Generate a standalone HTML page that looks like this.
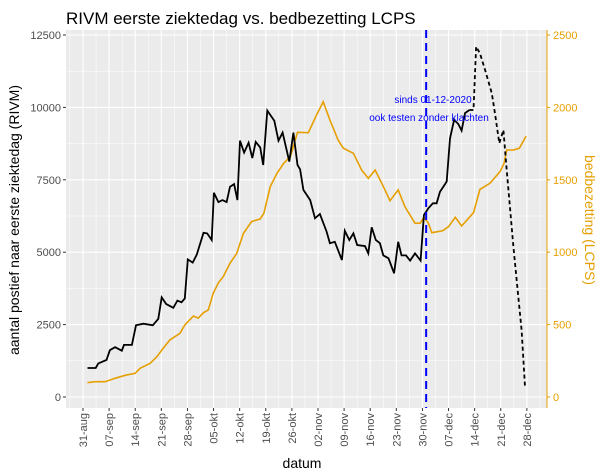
<!DOCTYPE html>
<html><head><meta charset="utf-8"><style>
body{margin:0;background:#fff;}
svg{display:block;font-family:"Liberation Sans",Arial,sans-serif;}
</style></head><body>
<svg id="chart" width="606" height="475" viewBox="0 0 606 475">
<text x="66" y="24" font-size="17" fill="#000">RIVM eerste ziektedag vs. bedbezetting LCPS</text>
<rect x="66" y="30" width="481" height="378" fill="#EBEBEB"/>
<g id="grid"></g>
<g id="series"></g>
<g id="axes"></g>
<text x="433" y="103" font-size="10" fill="#0000FF" text-anchor="middle">sinds 01-12-2020</text>
<text x="429" y="121" font-size="10" fill="#0000FF" text-anchor="middle">ook testen zonder klachten</text>
<text x="302" y="468" font-size="14" text-anchor="middle" fill="#000">datum</text>
<text transform="translate(19,220) rotate(-90)" font-size="14" text-anchor="middle" fill="#000">aantal postief naar eerste ziektedag (RIVM)</text>
<text transform="translate(585,220) rotate(90)" font-size="14" text-anchor="middle" fill="#E69F00">bedbezetting (LCPS)</text>
</svg>
<script>
// data (day offsets from 31-aug)
const rivmDays = [1.2,3.4,4.1,6.3,7.2,8.6,10.4,11.0,13.1,14.2,16.2,18.7,20.2,21.1,22.3,24.2,25.3,26.4,27.3,28.1,29.4,30.5,32.3,33.3,34.5,35.1,36.3,37.4,38.5,39.4,40.5,41.4,42.1,43.2,44.4,45.4,46.3,47.5,48.3,49.4,51.3,52.4,53.5,55.3,56.4,57.5,58.2,59.1,60.9,62.2,63.5,65.3,66.2,67.5,69.4,70.2,71.4,72.5,73.5,75.6,76.5,77.4,78.5,79.6,80.5,81.9,83.4,84.5,85.4,86.6,87.7,89.0,90.5,91.4,92.6,93.8,94.8,95.7,97.1,97.5,98.4,99.5,100.6,101.5,102.4,103.6];
const rivmValues = [1000,1000,1160,1280,1620,1720,1600,1800,1800,2475,2530,2475,2700,3440,3210,3080,3330,3270,3400,4750,4640,4920,5670,5650,5420,7050,6730,6800,6730,7260,7350,6800,8850,8440,8780,8250,8810,8620,8010,9890,9540,8850,9130,8130,9130,8010,7860,7150,6800,6170,6320,5710,5310,5360,4730,5740,5420,5650,5250,5210,4960,5860,5420,5310,4890,4790,4270,5360,4890,4890,4710,4960,4710,6280,6520,6690,6690,7090,7360,7440,8930,9570,9430,9200,9800,9910];
const rivmPrelimDays = [103.6,104.7,105.4,106.4,107.8,109.6,110.5,111.6,112.7,113.6,115.4,116.7,117.6,118.5];
const rivmPrelimValues = [9910,9910,12100,11870,11290,10490,9740,8760,9220,7840,5190,3460,2310,360];
const lcpsDays = [1.2,3.2,5.9,8.6,11.3,14,15.3,18,19.8,21.5,23.3,26,27.3,29.6,30.9,32.3,33.6,34.9,36.3,37.6,39.4,41.2,43,45.2,47.5,48.5,50.2,52,53.8,55.6,57.5,60.4,62.6,64.4,66.2,68.4,69.8,72.5,74.7,76.5,78.3,80.1,82.3,84.5,86.3,89,90.4,91.4,92.6,93.5,96.4,98,99.8,101.5,104.7,106.4,109.1,111.8,112.9,113.6,115.4,117,118.8];
const lcpsValues = [99,106,106,129,150,164,198,233,278,336,394,440,497,559,545,582,601,716,789,831,923,992,1130,1211,1230,1269,1452,1545,1614,1660,1828,1825,1947,2039,1913,1775,1718,1683,1568,1510,1568,1476,1356,1430,1314,1200,1200,1241,1200,1135,1148,1176,1241,1181,1273,1434,1476,1556,1614,1706,1706,1718,1802];
const xTickLabels = ["31-aug","07-sep","14-sep","21-sep","28-sep","05-okt","12-okt","19-okt","26-okt","02-nov","09-nov","16-nov","23-nov","30-nov","07-dec","14-dec","21-dec","28-dec"];
const leftTicks = [0,2500,5000,7500,10000,12500];
const rightTicks = [0,500,1000,1500,2000,2500];
const markerDay = 92;

const NS="http://www.w3.org/2000/svg";
const X0=66,X1=547,Y0=30,Y1=408;
const xs=d=>83+d*3.73;
const yl=v=>397-v*362/12500;
const yr=v=>397-v*362/2500;
function mk(tag,attrs,parent){const e=document.createElementNS(NS,tag);for(const k in attrs)e.setAttribute(k,attrs[k]);parent.appendChild(e);return e;}
const grid=document.getElementById('grid'),series=document.getElementById('series'),axes=document.getElementById('axes');
// minor grid
for(let i=-1;i<xTickLabels.length;i++){const x=xs(i*7+3.5);if(x>X0&&x<X1){const l=mk('line',{x1:x,x2:x,y1:Y0,y2:Y1,stroke:'#fff','stroke-width':0.5},grid);}}
for(let v=1250;v<12500;v+=2500){const y=yl(v);const l=mk('line',{x1:X0,x2:X1,y1:y,y2:y,stroke:'#fff','stroke-width':0.5},grid);}
// major grid + ticks
xTickLabels.forEach((lab,i)=>{const x=xs(i*7);
 const g=mk('line',{x1:x,x2:x,y1:Y0,y2:Y1,stroke:'#fff','stroke-width':1.1},grid);
 const t=mk('line',{x1:x,x2:x,y1:Y1,y2:Y1+3,stroke:'#333'},axes);
 const tx=mk('text',{transform:`translate(${x+4},${Y1+5}) rotate(-90)`,'font-size':11,fill:'#4D4D4D','text-anchor':'end'},axes);tx.textContent=lab;
});
leftTicks.forEach(v=>{const y=yl(v);
 const g=mk('line',{x1:X0,x2:X1,y1:y,y2:y,stroke:'#fff','stroke-width':1.1},grid);
 const t=mk('line',{x1:X0-3,x2:X0,y1:y,y2:y,stroke:'#333'},axes);
 const tx=mk('text',{x:X0-5,y:y+4,'font-size':11,fill:'#4D4D4D','text-anchor':'end'},axes);tx.textContent=v;
});
const ra=mk('line',{x1:X1,x2:X1,y1:Y0,y2:Y1,stroke:'#E69F00','stroke-width':1},axes);
rightTicks.forEach(v=>{const y=yr(v);
 const t=mk('line',{x1:X1,x2:X1+3,y1:y,y2:y,stroke:'#E69F00'},axes);
 const tx=mk('text',{x:X1+6,y:y+4,'font-size':11,fill:'#E69F00'},axes);tx.textContent=v;
});
function path(days,vals,yf){return days.map((d,i)=>(i?'L':'M')+xs(d).toFixed(1)+','+yf(vals[i]).toFixed(1)).join('');}
const lc=mk('path',{d:path(lcpsDays,lcpsValues,yr),fill:'none',stroke:'#E69F00','stroke-width':1.6},series);

const rv=mk('path',{d:path(rivmDays,rivmValues,yl),fill:'none',stroke:'#000','stroke-width':1.8},series);

const rp=mk('path',{d:path(rivmPrelimDays,rivmPrelimValues,yl),fill:'none',stroke:'#000','stroke-width':1.8,'stroke-dasharray':'4,3'},series);

const vx=xs(markerDay);
const vl=mk('line',{x1:vx,x2:vx,y1:Y0,y2:Y1,stroke:'#0000FF','stroke-width':2,'stroke-dasharray':'8,5'},series);

</script>
</body></html>
